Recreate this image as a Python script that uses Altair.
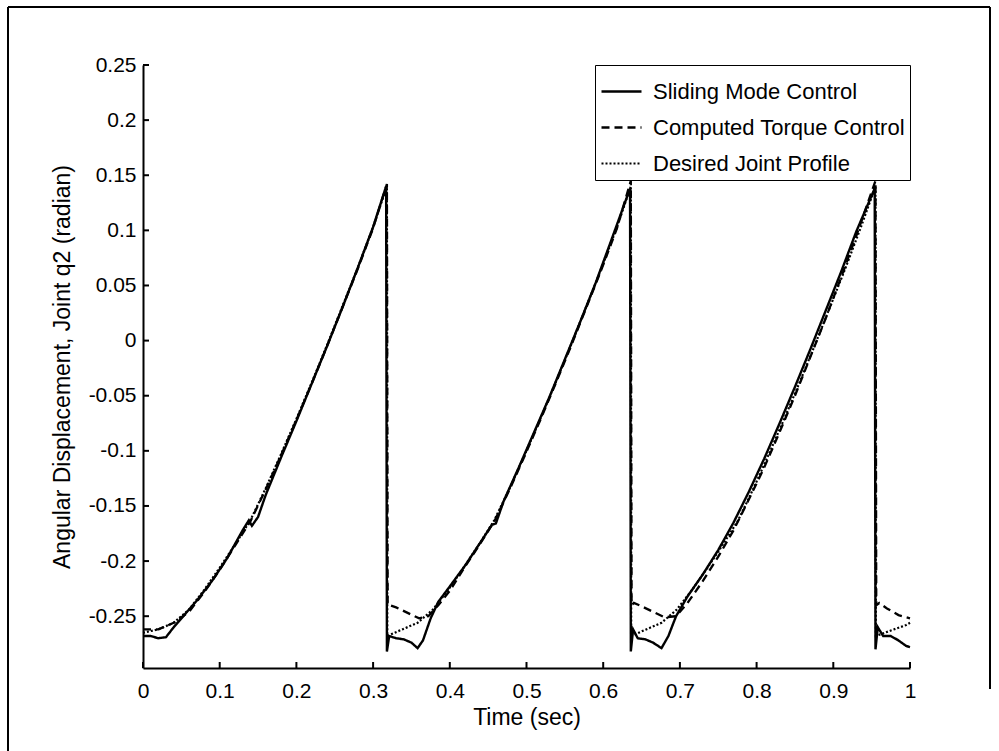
import altair as alt
import pandas as pd

series_names = ["Sliding Mode Control", "Computed Torque Control", "Desired Joint Profile"]

# Sliding mode control (solid)
smc_t = [0.0, 0.01, 0.02, 0.03, 0.04, 0.05, 0.07, 0.09, 0.11, 0.13, 0.138, 0.142, 0.15, 0.16,
         0.18, 0.20, 0.22, 0.24, 0.26, 0.28, 0.30, 0.317, 0.318,
         0.321, 0.33, 0.34, 0.35, 0.358, 0.365, 0.375, 0.385, 0.40, 0.42, 0.44, 0.455, 0.46,
         0.47, 0.49, 0.51, 0.53, 0.55, 0.57, 0.59, 0.61, 0.635, 0.636,
         0.639, 0.645, 0.655, 0.665, 0.676, 0.685, 0.695, 0.71, 0.73, 0.75, 0.77, 0.79, 0.81,
         0.83, 0.85, 0.87, 0.89, 0.91, 0.93, 0.954, 0.955,
         0.958, 0.965, 0.975, 0.985, 0.995, 1.0]
smc_q = [-0.268, -0.268, -0.270, -0.269, -0.260, -0.252, -0.236, -0.218, -0.197, -0.172, -0.163, -0.168, -0.160, -0.140,
         -0.106, -0.073, -0.039, -0.005, 0.030, 0.066, 0.103, 0.140, -0.282,
         -0.268, -0.270, -0.271, -0.274, -0.279, -0.272, -0.252, -0.237, -0.223, -0.204, -0.183, -0.167, -0.166,
         -0.146, -0.115, -0.083, -0.051, -0.017, 0.017, 0.052, 0.090, 0.138, -0.282,
         -0.262, -0.270, -0.271, -0.274, -0.279, -0.268, -0.250, -0.232, -0.212, -0.190, -0.165, -0.137, -0.107,
         -0.075, -0.042, -0.008, 0.027, 0.062, 0.099, 0.138, -0.280,
         -0.260, -0.268, -0.268, -0.272, -0.277, -0.278]

# Computed torque control (dashed)
ctc_t = [0.0, 0.02, 0.04, 0.06, 0.08, 0.10, 0.12, 0.14, 0.16, 0.18, 0.20, 0.22, 0.24, 0.26, 0.28,
         0.30, 0.318, 0.319,
         0.322, 0.33, 0.345, 0.36, 0.372, 0.385, 0.40, 0.418, 0.438, 0.458, 0.478, 0.498, 0.518,
         0.538, 0.558, 0.578, 0.598, 0.618, 0.636, 0.637,
         0.640, 0.65, 0.665, 0.68, 0.695, 0.71, 0.73, 0.75, 0.77, 0.79, 0.81, 0.83, 0.85, 0.87,
         0.89, 0.91, 0.93, 0.955, 0.956,
         0.960, 0.97, 0.985, 1.0]
ctc_q = [-0.262, -0.262, -0.256, -0.246, -0.228, -0.208, -0.186, -0.164, -0.135, -0.104, -0.072, -0.039, -0.005, 0.030, 0.065,
         0.102, 0.142, -0.240,
         -0.240, -0.242, -0.247, -0.252, -0.250, -0.240, -0.227, -0.207, -0.186, -0.164, -0.135, -0.104, -0.072,
         -0.039, -0.005, 0.030, 0.065, 0.102, 0.145, -0.240,
         -0.238, -0.241, -0.246, -0.251, -0.250, -0.238, -0.218, -0.196, -0.172, -0.144, -0.115, -0.083, -0.050, -0.015,
         0.020, 0.057, 0.095, 0.145, -0.240,
         -0.238, -0.243, -0.249, -0.252]

# Desired joint profile (dotted)
des_t = [0.0, 0.02, 0.04, 0.06, 0.08, 0.10, 0.12, 0.14, 0.16, 0.18, 0.20, 0.22, 0.24, 0.26, 0.28,
         0.30, 0.318, 0.3185,
         0.338, 0.358, 0.378, 0.398, 0.418, 0.438, 0.458, 0.478, 0.498, 0.518, 0.538, 0.558,
         0.578, 0.598, 0.618, 0.636, 0.6365,
         0.656, 0.676, 0.696, 0.716, 0.736, 0.756, 0.776, 0.796, 0.816, 0.836, 0.856, 0.876,
         0.896, 0.916, 0.936, 0.955, 0.9555,
         0.975, 0.995, 1.0]
des_q = [-0.265, -0.262, -0.256, -0.244, -0.226, -0.206, -0.185, -0.163, -0.134, -0.103, -0.071, -0.038, -0.004, 0.031, 0.066,
         0.103, 0.140, -0.268,
         -0.262, -0.256, -0.244, -0.226, -0.206, -0.185, -0.163, -0.134, -0.103, -0.071, -0.038, -0.004,
         0.031, 0.066, 0.103, 0.140, -0.268,
         -0.262, -0.256, -0.244, -0.226, -0.206, -0.185, -0.163, -0.134, -0.103, -0.071, -0.038, -0.004,
         0.031, 0.066, 0.103, 0.140, -0.268,
         -0.263, -0.258, -0.256]

x_ticks = [0.0, 0.1, 0.2, 0.3, 0.4, 0.5, 0.6, 0.7, 0.8, 0.9, 1.0]
y_ticks = [-0.25, -0.2, -0.15, -0.1, -0.05, 0.0, 0.05, 0.1, 0.15, 0.2, 0.25]

rows = []
for name, ts, qs in [(series_names[0], smc_t, smc_q),
                     (series_names[1], ctc_t, ctc_q),
                     (series_names[2], des_t, des_q)]:
    for i, (t, q) in enumerate(zip(ts, qs)):
        rows.append({"series": name, "t": t, "q": q, "i": i})
df = pd.DataFrame(rows)

FONT = "Liberation Sans"
LBL = 21
TTL = 23
LEG = 22
W, H = 767, 603
xscale = alt.Scale(domain=[0, 1], nice=False, zero=False)
yscale = alt.Scale(domain=[-0.297, 0.25], nice=False, zero=False)

xaxis = alt.Axis(values=x_ticks, ticks=False, grid=False, domainColor="black", domainWidth=2,
                 labelExpr="'' + datum.value", labelFont=FONT, labelFontSize=LBL, labelColor="black",
                 labelPadding=12, title="Time (sec)", titleFont=FONT, titleFontSize=TTL,
                 titleFontWeight="normal", titleColor="black", titlePadding=5, labelFlush=False)
yaxis = alt.Axis(values=y_ticks, ticks=False, grid=False, domainColor="black", domainWidth=2,
                 labelExpr="'' + datum.value", labelFont=FONT, labelFontSize=LBL, labelColor="black",
                 labelPadding=7, title="Angular Displacement, Joint q2 (radian)", titleFont=FONT,
                 titleFontSize=TTL, titleFontWeight="normal", titleColor="black", titlePadding=14,
                 labelFlush=False)

lines = alt.Chart(df).mark_line(color="black").encode(
    x=alt.X("t:Q", scale=xscale, axis=xaxis),
    y=alt.Y("q:Q", scale=yscale, axis=yaxis),
    strokeDash=alt.StrokeDash(
        "series:N",
        scale=alt.Scale(domain=series_names, range=[[1, 0], [8, 5], [2, 2]]),
        sort=series_names,
        legend=alt.Legend(title=None, orient="top-right", offset=0, symbolType="stroke",
                          symbolSize=1600, symbolStrokeColor="black", symbolStrokeWidth=2,
                          labelFont=FONT, labelFontSize=LEG, labelColor="black", labelLimit=0,
                          strokeColor="black", fillColor="white", padding=5,
                          rowPadding=3, labelOffset=10),
    ),
    strokeWidth=alt.StrokeWidth("series:N",
                                scale=alt.Scale(domain=series_names, range=[2.4, 2.2, 1.6]),
                                legend=None),
    order=alt.Order("i:Q"),
)

ytick_df = pd.DataFrame({"q": y_ticks})
xtick_df = pd.DataFrame({"t": x_ticks})
yticks = alt.Chart(ytick_df).mark_rule(color="black", strokeWidth=2).encode(
    y=alt.Y("q:Q", scale=yscale, axis=yaxis), x=alt.value(0), x2=alt.value(6))
xticks = alt.Chart(xtick_df).mark_rule(color="black", strokeWidth=2).encode(
    x=alt.X("t:Q", scale=xscale, axis=xaxis), y=alt.value(H), y2=alt.value(H - 6))

one = pd.DataFrame({"k": [0]})
frame_left = alt.Chart(one).mark_rule(color="black", strokeWidth=2).encode(
    x=alt.value(-135), y=alt.value(-58), y2=alt.value(686))
frame_top = alt.Chart(one).mark_rule(color="black", strokeWidth=2).encode(
    x=alt.value(-135), x2=alt.value(847), y=alt.value(-58))
frame_right = alt.Chart(one).mark_rule(color="black", strokeWidth=2).encode(
    x=alt.value(847), y=alt.value(-58), y2=alt.value(624))

chart = alt.layer(lines, yticks, xticks, frame_left, frame_top, frame_right).properties(
    width=W, height=H,
    autosize=alt.AutoSizeParams(type="none"),
    padding={"left": 143, "top": 65, "right": 89, "bottom": 83},
    background="white",
).configure_view(stroke=None)

chart.save("out.html", embed_options={"renderer": "svg", "actions": False})
